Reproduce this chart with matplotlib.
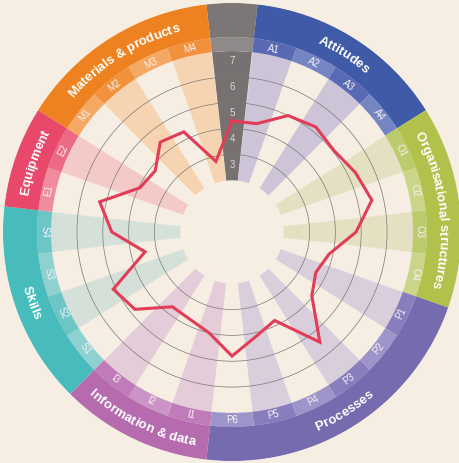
import numpy as np
import matplotlib
matplotlib.use('Agg')
import matplotlib.pyplot as plt
from matplotlib.font_manager import FontProperties, findfont, get_font

# sector codes, clockwise from the top (first one is the grey scale sector)
codes = ['', 'A1', 'A2', 'A3', 'A4', 'O1', 'O2', 'O3', 'O4',
         'P1', 'P2', 'P3', 'P4', 'P5', 'P6', 'I1', 'I2', 'I3',
         'S1', 'S2', 'S3', 'S4', 'E1', 'E2', 'M1', 'M2', 'M3', 'M4']
scores = [4.3, 4.3, 5.0, 5.2, 5.05, 5.3, 5.55, 4.8, 3.85,
          3.6, 3.95, 5.45, 3.8, 4.15, 4.8, 4.0, 3.75, 3.7,
          4.8, 5.1, 3.45, 4.65, 5.25, 3.95, 3.8, 4.45, 4.3, 2.8]

groups = ['', 'Attitudes', 'Organisational structures', 'Processes',
          'Information & data', 'Skills', 'Equipment', 'Materials & products']
group_sizes = [1, 4, 4, 6, 3, 4, 2, 4]
flipped = [False, False, False, True, True, True, False, False]

outer_cols = ['#7c7776', '#3f5ba7', '#b1c14b', '#776bb0', '#b66bae', '#48bcbd', '#e8486a', '#ef8220']
sub_dark = ['#8e8a89', '#5a69b3', '#bccb6c', '#887ebd', '#c07bb9', '#6dc5c5', '#ec6a83', '#f1913b']
sub_light = ['#8e8a89', '#7585c3', '#cad588', '#9d94ca', '#cc93c7', '#8fd1d0', '#f08b9c', '#f4a862']
bar_cols = ['#777271', '#cdc4d8', '#e4e0c2', '#d9cfdc', '#e4cdd9', '#d5e1d8', '#f3cac6', '#f6d4b1']

scale_labels = [3, 4, 5, 6, 7]

bg = '#f6ede3'
n = len(codes)
step = 2 * np.pi / n
theta = np.arange(n) * step

fig = plt.figure(figsize=(4.59, 4.63), dpi=100, facecolor=bg)
ax = fig.add_axes([3 / 459, 2 / 463, 458 / 459, 458 / 463], projection='polar')
ax.set_theta_zero_location('N')
ax.set_theta_direction(-1)
ax.set_ylim(0, 8.86)
ax.axis('off')

# which group each sector belongs to
gidx = np.repeat(np.arange(len(groups)), group_sizes)

# bars, sub band, outer band
for i in range(n):
    g = gidx[i]
    filled = (i % 2 == 1) or i == 0
    if filled:
        ax.bar(theta[i], 5.0, width=step * 0.985, bottom=2.0, color=bar_cols[g],
               edgecolor='none', zorder=1)
    ax.bar(theta[i], 0.54, width=step, bottom=7.0,
           color=sub_dark[g] if filled else sub_light[g], edgecolor='none', zorder=2)

start = 0
for g, size in enumerate(group_sizes):
    t0 = (start - 0.5) * step
    ax.bar(t0 + size * step / 2, 1.33, width=size * step, bottom=7.54,
           color=outer_cols[g], edgecolor='none', zorder=2)
    start += size

# grid circles
tt = np.linspace(0, 2 * np.pi, 400)
for r in [3, 4, 5, 6]:
    ax.plot(tt, np.full_like(tt, r), color='#7d7876', lw=0.5, zorder=3)

# scale numbers in the grey sector
for k in scale_labels:
    ax.text(0, k - 0.4, str(k), color='#dcd8d6', fontsize=7, ha='center', va='center',
            family='Liberation Sans', zorder=5)

# sub band labels
for i in range(1, n):
    deg = np.degrees(theta[i])
    rot = 180 - deg if flipped[gidx[i]] else -deg
    ax.text(theta[i], 7.26, codes[i], color='#f7f1f2', fontsize=7, ha='center', va='center',
            rotation=rot, rotation_mode='anchor', family='Liberation Sans', zorder=5)

# curved group labels, letters placed one by one along the arc
fsize = 9.5
fp = FontProperties(family='Liberation Sans', weight='bold', size=fsize)
font = get_font(findfont(fp))
font.set_size(fsize, 100)


def advance(c):
    gl = font.load_char(ord(c))
    return gl.linearHoriAdvance / 65536


px_per_unit = 229 / 8.86
r_mid = 8.2
cap = 0.72 * fsize * 100 / 72 / px_per_unit

start = 0
for g, size in enumerate(group_sizes):
    center = (start - 0.5) * step + size * step / 2
    start += size
    label = groups[g]
    if not label:
        continue
    widths = [advance(c) for c in label]
    r_px = r_mid * px_per_unit
    span = sum(widths) / r_px
    cum = 0.0
    for c, w in zip(label, widths):
        off0 = cum / r_px
        offm = (cum + w / 2) / r_px
        cum += w
        if c == ' ':
            continue
        if flipped[g]:
            th = center + span / 2 - off0
            rot = 180 - np.degrees(center + span / 2 - offm)
            rb = r_mid + cap / 2
        else:
            th = center - span / 2 + off0
            rot = -np.degrees(center - span / 2 + offm)
            rb = r_mid - cap / 2
        ax.text(th, rb, c, fontproperties=fp, color='white', ha='left', va='baseline',
                rotation=rot, rotation_mode='anchor', zorder=6)

# score line
ax.plot(np.append(theta, theta[0]), np.append(scores, scores[0]),
        color='#e23c58', lw=2.2, zorder=4, solid_joinstyle='miter')

plt.savefig('out.png', dpi=100, facecolor=bg)
